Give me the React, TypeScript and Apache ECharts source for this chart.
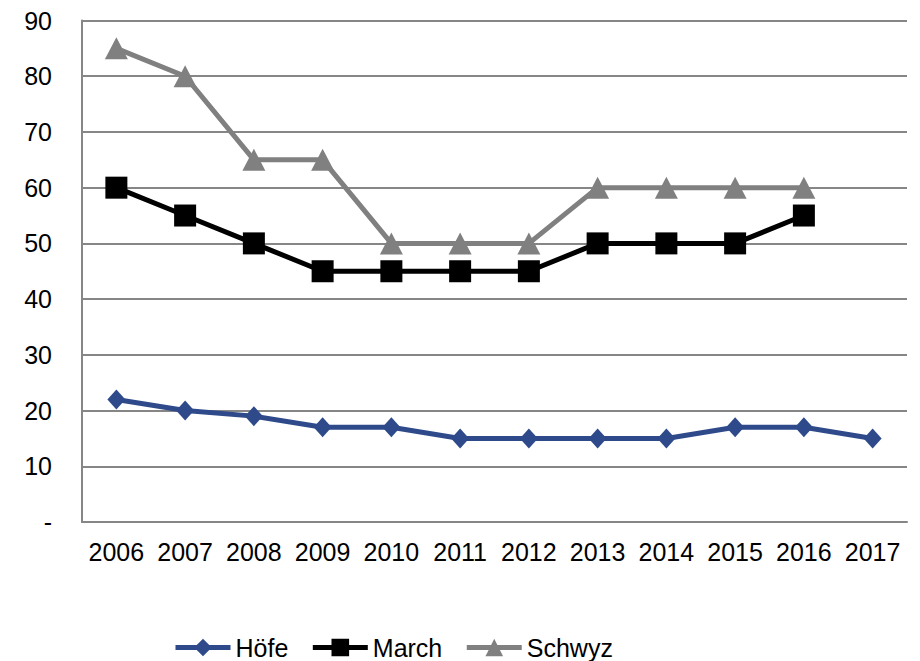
import React, { useEffect, useRef } from "react";
import * as echarts from "echarts";

const years = ["2006", "2007", "2008", "2009", "2010", "2011", "2012", "2013", "2014", "2015", "2016", "2017"];
const hoefe = [22, 20, 19, 17, 17, 15, 15, 15, 15, 17, 17, 15];
const march = [60, 55, 50, 45, 45, 45, 45, 50, 50, 50, 55, null];
const schwyz = [85, 80, 65, 65, 50, 50, 50, 60, 60, 60, 60, null];

const FONT = "Liberation Sans, Arial, sans-serif";
const FS = 25;

export default function App() {
  const ref = useRef<HTMLDivElement>(null);
  useEffect(() => {
    const chart = echarts.init(ref.current!, null, { renderer: "svg" });
    chart.setOption({
      animation: false,
      grid: { left: 74, right: 5, top: 10, bottom: 139 },
      legend: {
        top: 622,
        left: 160,
        itemWidth: 55,
        itemHeight: 22,
        itemGap: 22,
        lineStyle: { width: 5 },
        textStyle: { fontFamily: FONT, fontSize: FS, color: "#000" },
        data: ["Höfe", "March", "Schwyz"],
      },
      xAxis: {
        type: "category",
        data: years,
        boundaryGap: true,
        axisLine: { lineStyle: { color: "#868686", width: 2 } },
        axisTick: { show: false },
        axisLabel: { fontFamily: FONT, fontSize: FS, color: "#000", margin: 17, interval: 0 },
      },
      yAxis: {
        type: "value",
        min: 0,
        max: 90,
        interval: 10,
        axisLine: { show: true, lineStyle: { color: "#868686", width: 2 } },
        axisTick: { show: false },
        splitLine: { lineStyle: { color: "#868686", width: 2 } },
        axisLabel: {
          fontFamily: FONT,
          fontSize: FS,
          color: "#000",
          margin: 30,
          formatter: (v: number) => (v === 0 ? "-" : String(v)),
        },
      },
      series: [
        {
          name: "Höfe",
          type: "line",
          data: hoefe,
          symbol: "diamond",
          symbolSize: [18, 20],
          lineStyle: { color: "#2F4A8A", width: 5 },
          itemStyle: { color: "#2F4A8A" },
        },
        {
          name: "March",
          type: "line",
          data: march,
          symbol: "rect",
          symbolSize: 22,
          lineStyle: { color: "#000", width: 5 },
          itemStyle: { color: "#000", borderRadius: 3 },
        },
        {
          name: "Schwyz",
          type: "line",
          data: schwyz,
          symbol: "triangle",
          symbolSize: [23, 22],
          lineStyle: { color: "#808080", width: 5 },
          itemStyle: { color: "#808080" },
        },
      ],
    });
    return () => chart.dispose();
  }, []);
  return <div ref={ref} style={{ width: 904, height: 653 }} />;
}
